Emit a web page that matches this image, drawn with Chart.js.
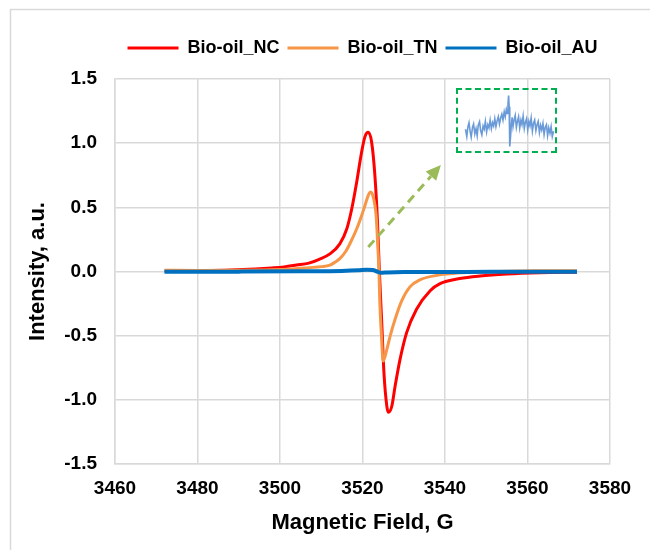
<!DOCTYPE html>
<html><head><meta charset="utf-8">
<script src="https://cdn.jsdelivr.net/npm/chart.js@4.4.1/dist/chart.umd.min.js"></script>
<style>
html,body{margin:0;padding:0;background:#fff;}
#wrap{position:relative;width:650px;height:550px;overflow:hidden;}
#main{position:absolute;left:0;top:0;}
#insetBox{position:absolute;left:456px;top:88px;width:97px;height:61px;border:2px dashed #00b050;}
#inset{display:block;}
</style></head><body>
<div id="wrap"><canvas id="main" width="650" height="550"></canvas>
<div id="insetBox"><canvas id="inset" width="97" height="61"></canvas></div></div>
<script>
// ---- data ----
const seriesNames = ['Bio-oil_NC', 'Bio-oil_TN', 'Bio-oil_AU'];
const xTicks = [3460, 3480, 3500, 3520, 3540, 3560, 3580];
const yTicks = [-1.5, -1.0, -0.5, 0.0, 0.5, 1.0, 1.5];

const ncField = [3472, 3480, 3488, 3494, 3498, 3501, 3504, 3507, 3509.5, 3512.1, 3514.5, 3516.2, 3517.4, 3518.6, 3519.8, 3520.6, 3521.4, 3522.2, 3523.0, 3523.6, 3524.1, 3524.7, 3525.2, 3525.9, 3526.3, 3527.1, 3527.9, 3529.1, 3530.7, 3533.1, 3536.4, 3538.8, 3543.6, 3548.5, 3555, 3563, 3572];
const ncInt   = [0.004, 0.007, 0.012, 0.02, 0.028, 0.036, 0.05, 0.065, 0.095, 0.137, 0.215, 0.333, 0.489, 0.698, 0.933, 1.051, 1.085, 1.011, 0.75, 0.411, -0.006, -0.424, -0.789, -1.05, -1.097, -1.05, -0.894, -0.685, -0.476, -0.294, -0.15, -0.095, -0.055, -0.035, -0.02, -0.01, -0.005];

const tnField = [3472, 3480, 3490, 3498, 3503, 3507, 3510, 3512.1, 3513.3, 3514.5, 3516.0, 3517.0, 3518.6, 3519.8, 3520.6, 3521.4, 3522.0, 3522.6, 3523.3, 3523.7, 3524.0, 3524.2, 3524.6, 3525.0, 3525.9, 3526.7, 3527.9, 3529.5, 3531.5, 3533.9, 3538.0, 3542, 3548, 3555, 3562, 3572];
const tnInt   = [0.01, 0.008, 0.01, 0.014, 0.02, 0.03, 0.038, 0.05, 0.072, 0.10, 0.16, 0.22, 0.333, 0.437, 0.515, 0.594, 0.62, 0.581, 0.437, 0.202, -0.006, -0.241, -0.503, -0.698, -0.607, -0.503, -0.372, -0.229, -0.12, -0.065, -0.03, -0.015, -0.005, 0.002, 0.005, 0.006];

const auField = [3472, 3490, 3505, 3515, 3519, 3521, 3522.5, 3523.5, 3524.5, 3526, 3530, 3545, 3560, 3572];
const auInt   = [-0.002, -0.001, 0.001, 0.004, 0.009, 0.014, 0.012, 0.0, -0.01, -0.007, -0.004, -0.003, -0.002, -0.002];

// magnified Bio-oil_AU signal shown in the inset (relative units)
const insetField = [3472, 3473.5, 3474.8, 3476, 3477.3, 3478.5, 3480, 3481.2, 3482.6, 3484, 3485.3, 3486.5, 3488, 3489.2, 3490.6, 3492, 3493.3, 3494.6, 3496, 3497.4, 3498.7, 3500, 3501.4, 3502.7, 3504, 3505.3, 3506.6, 3508, 3509.3, 3510.6, 3512, 3513.3, 3514.6, 3516, 3517.2, 3518.4, 3519.5, 3520.3, 3521, 3521.6, 3522.1, 3522.5, 3523.2, 3524, 3525, 3526, 3527.2, 3528.5, 3529.8, 3531, 3532.3, 3533.6, 3535, 3536.2, 3537.5, 3538.8, 3540, 3541.4, 3542.7, 3544, 3545.3, 3546.6, 3548, 3549.3, 3550.6, 3552, 3553.3, 3554.6, 3556, 3557.3, 3558.6, 3560, 3561.3, 3562.6, 3564, 3565.3, 3566.6, 3568, 3569.3, 3570.6, 3572];
const insetVal   = [0.02, -0.20, 0.10, 0.22, -0.05, -0.22, 0.08, 0.18, -0.12, 0.04, -0.18, 0.14, 0.25, -0.02, -0.15, 0.12, 0.02, 0.26, -0.06, 0.16, 0.06, 0.30, 0.04, 0.22, 0.12, 0.34, 0.10, 0.28, 0.40, 0.18, 0.36, 0.48, 0.30, 0.55, 0.40, 0.62, 0.50, 0.80, 1.04, 0.70, -0.10, -0.50, -0.20, 0.12, 0.38, 0.10, 0.30, 0.44, 0.08, 0.26, 0.40, 0.06, 0.30, 0.16, 0.42, 0.04, 0.22, 0.34, 0.00, 0.26, 0.12, 0.36, -0.04, 0.20, 0.30, -0.02, 0.16, 0.26, -0.08, 0.14, 0.00, 0.20, -0.14, 0.08, 0.16, -0.18, 0.06, -0.10, 0.10, -0.20, -0.04];

// annotation arrow (data coordinates)
const arrowFrom = {x: 3521.4, y: 0.19};
const arrowTo   = {x: 3539.0, y: 0.83};

const colors = ['#ff0000', '#f79646', '#0070c0'];

Chart.defaults.font.family = 'Arial, "Liberation Sans", sans-serif';
Chart.defaults.color = '#000';

const toPts = (xs, ys) => xs.map((x, i) => ({x: x, y: ys[i]}));

const legendSpace = {
  id: 'legendSpace',
  beforeInit(chart) {
    const orig = chart.legend.fit;
    chart.legend.fit = function () { orig.call(this); this.height += 12; };
  }
};

const frame = {
  id: 'frame',
  beforeDraw(chart) {
    const c = chart.ctx;
    c.save();
    c.fillStyle = '#fff';
    c.fillRect(0, 0, chart.width, chart.height);
    c.strokeStyle = '#d9d9d9';
    c.lineWidth = 1.5;
    c.beginPath();
    c.moveTo(10.5, 550); c.lineTo(10.5, 9.5); c.lineTo(650, 9.5);
    c.stroke();
    c.restore();
  }
};

const arrow = {
  id: 'arrow',
  afterDatasetsDraw(chart) {
    const xs = chart.scales.x, ys = chart.scales.y, c = chart.ctx;
    const x0 = xs.getPixelForValue(arrowFrom.x), y0 = ys.getPixelForValue(arrowFrom.y);
    const x1 = xs.getPixelForValue(arrowTo.x), y1 = ys.getPixelForValue(arrowTo.y);
    const ang = Math.atan2(y1 - y0, x1 - x0);
    const hl = 15, hw = 7;
    const bx = x1 - hl * Math.cos(ang), by = y1 - hl * Math.sin(ang);
    c.save();
    c.strokeStyle = '#9bbb59';
    c.fillStyle = '#9bbb59';
    c.lineWidth = 3;
    c.setLineDash([9, 6]);
    c.beginPath(); c.moveTo(x0, y0); c.lineTo(bx, by); c.stroke();
    c.setLineDash([]);
    c.beginPath();
    c.moveTo(x1, y1);
    c.lineTo(bx + hw * Math.sin(ang), by - hw * Math.cos(ang));
    c.lineTo(bx - hw * Math.sin(ang), by + hw * Math.cos(ang));
    c.closePath(); c.fill();
    c.restore();
  }
};

const fields = [ncField, tnField, auField];
const ints = [ncInt, tnInt, auInt];
const widths = [3, 3, 4];
const orders = [3, 2, 1];

new Chart(document.getElementById('main'), {
  type: 'line',
  data: {
    datasets: seriesNames.map((n, i) => ({
      label: n,
      data: toPts(fields[i], ints[i]),
      borderColor: colors[i],
      backgroundColor: colors[i],
      borderWidth: widths[i],
      pointRadius: 0,
      cubicInterpolationMode: 'monotone',
      order: orders[i]
    }))
  },
  options: {
    responsive: false,
    animation: false,
    layout: {padding: {top: 31, left: 0, right: 40, bottom: 0}},
    plugins: {
      tooltip: {enabled: false},
      legend: {
        position: 'top',
        fullSize: false,
        labels: {
          boxWidth: 51,
          boxHeight: 3,
          padding: 8,
          font: {size: 18, weight: 'bold'},
          color: '#000',
          sort: (a, b) => a.datasetIndex - b.datasetIndex,
          generateLabels(chart) {
            const items = Chart.defaults.plugins.legend.labels.generateLabels(chart);
            items.forEach(it => { it.lineWidth = 0; it.fillStyle = it.strokeStyle; });
            return items;
          }
        }
      }
    },
    scales: {
      x: {
        type: 'linear',
        min: xTicks[0], max: xTicks[xTicks.length - 1],
        afterBuildTicks(s) { s.ticks = xTicks.map(v => ({value: v})); },
        afterFit(s) { s.height = 86; },
        ticks: {font: {size: 19, weight: 'bold'}, color: '#000', padding: 13, maxRotation: 0,
                callback: v => String(v)},
        grid: {color: '#d9d9d9', lineWidth: 1.5, drawTicks: false},
        border: {color: '#d9d9d9', width: 1.5},
        title: {display: true, text: 'Magnetic Field, G', font: {size: 22, weight: 'bold'}, color: '#000',
                padding: {top: 0, bottom: 14}}
      },
      y: {
        min: yTicks[0], max: yTicks[yTicks.length - 1],
        afterBuildTicks(s) { s.ticks = yTicks.map(v => ({value: v})); },
        afterFit(s) { s.width = 115; },
        ticks: {font: {size: 19, weight: 'bold'}, color: '#000', padding: 18,
                callback: v => Number(v).toFixed(1)},
        grid: {color: '#d9d9d9', lineWidth: 1.5, drawTicks: false},
        border: {color: '#d9d9d9', width: 1.5},
        title: {display: true, text: 'Intensity, a.u.', font: {size: 22, weight: 'bold'}, color: '#000',
                padding: {top: 25, bottom: 0}}
      }
    }
  },
  plugins: [legendSpace, frame, arrow]
});

new Chart(document.getElementById('inset'), {
  type: 'line',
  data: {datasets: [{data: toPts(insetField, insetVal), borderColor: '#6a9bd8', borderWidth: 1.6,
                     pointRadius: 0, tension: 0}]},
  options: {
    responsive: false, animation: false,
    layout: {padding: 0},
    plugins: {legend: {display: false}, tooltip: {enabled: false}},
    scales: {
      x: {type: 'linear', display: false, min: 3463.5, max: 3573.7},
      y: {display: false, min: -0.64, max: 1.21}
    }
  }
});
</script>
</body></html>
